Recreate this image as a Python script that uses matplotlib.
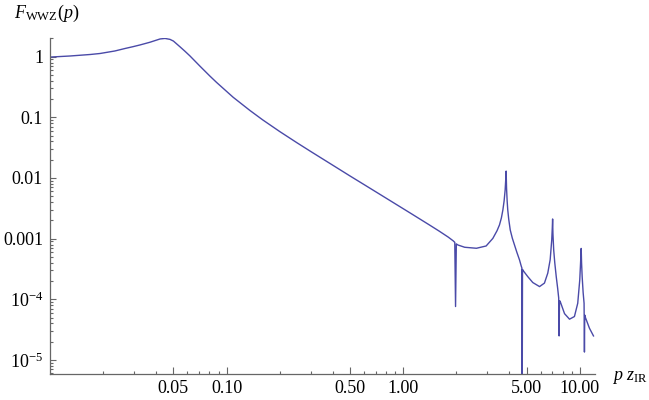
import matplotlib
matplotlib.use("Agg")
import matplotlib.pyplot as plt
from matplotlib.ticker import FixedLocator, FixedFormatter, NullFormatter

# ---- data ----
p_vals = [0.01, 0.013, 0.0169, 0.0192, 0.0233, 0.0266, 0.0295, 0.0323, 0.0368, 0.042,
          0.0448, 0.0478, 0.05, 0.0544, 0.0581, 0.062, 0.0706, 0.0804, 0.0878, 0.109,
          0.1355, 0.16, 0.2, 0.25, 0.3, 0.4, 0.5, 0.6, 0.75, 0.9,
          1.1, 1.4, 1.6, 1.8, 1.92, 1.96, 1.98, 2.0, 2.04, 2.23,
          2.6, 2.95, 3.22, 3.4, 3.51, 3.6, 3.67, 3.73, 3.78, 3.81,
          3.83, 3.85, 3.88, 3.91, 3.96, 4.04, 4.15, 4.27, 4.4, 4.56,
          4.66, 4.70, 4.72, 4.74, 4.80, 5.08, 5.42, 5.92, 6.31, 6.59,
          6.80, 6.94, 6.99, 7.02, 7.05, 7.12, 7.22, 7.36, 7.5, 7.6,
          7.64, 7.68, 7.75, 8.2, 8.75, 9.33, 9.74, 10.0, 10.1, 10.19,
          10.24, 10.32, 10.45, 10.58, 10.63, 10.67, 10.77, 11.35, 11.96]
F_vals = [0.985, 1.027, 1.087, 1.129, 1.242, 1.365, 1.462, 1.56, 1.73, 1.96,
          2.0, 1.93, 1.81, 1.46, 1.23, 1.03, 0.70, 0.48, 0.376, 0.214,
          0.13, 0.091, 0.0583, 0.0382, 0.0273, 0.0162, 0.0108, 0.0078, 0.00523, 0.00377,
          0.00263, 0.0017, 0.00133, 0.00106, 0.00092, 0.00087, 7.6e-5, 0.00082, 0.000787, 0.000721,
          0.000694, 0.000757, 0.00101, 0.00135, 0.00168, 0.0022, 0.00297, 0.0042, 0.00634, 0.0095,
          0.013, 0.0068, 0.0042, 0.003, 0.0021, 0.00139, 0.00102, 0.000787, 0.0006, 0.000445,
          0.000355, 0.00033, 1e-6, 0.00031, 0.000293, 0.000236, 0.000189, 0.000162, 0.000185, 0.00027,
          0.00045, 0.00095, 0.0015, 0.00211, 0.0012, 0.00065, 0.0004, 0.000236, 0.00015, 0.000105,
          2.49e-5, 9.5e-5, 9.2e-5, 5.8e-5, 4.7e-5, 5.2e-5, 8.6e-5, 0.000208, 0.00038, 0.00069,
          0.0004, 0.000236, 0.00013, 8.6e-5, 1.35e-5, 5.5e-5, 5.0e-5, 3.33e-5, 2.49e-5]

x_major = [0.05, 0.1, 0.5, 1.0, 5.0, 10.0]
x_major_labels = ["0.05", "0.10", "0.50", "1.00", "5.00", "10.00"]
x_minor = [0.02, 0.03, 0.04, 0.06, 0.07, 0.08, 0.09,
           0.2, 0.3, 0.4, 0.6, 0.7, 0.8, 0.9,
           2, 3, 4, 6, 7, 8, 9]
y_major = [1, 0.1, 0.01, 0.001, 1e-4, 1e-5]
y_major_labels = ["1", "0.1", "0.01", "0.001", r"$10^{-4}$", r"$10^{-5}$"]
y_minor = [m * 10.0 ** e for e in range(-6, 1) for m in range(2, 10)]

# ---- style ----
plt.rcParams['font.family'] = ['Liberation Serif', 'DejaVu Serif']
plt.rcParams['mathtext.fontset'] = 'custom'
plt.rcParams['mathtext.rm'] = 'Liberation Serif'
plt.rcParams['mathtext.it'] = 'Liberation Serif:italic'
plt.rcParams['mathtext.bf'] = 'Liberation Serif:bold'

W, H = 649, 400
fig = plt.figure(figsize=(W / 100, H / 100), dpi=100)
left, right, top, bottom = 50, 595, 38.3, 374.3
ax = fig.add_axes([left / W, 1 - bottom / H, (right - left) / W, (bottom - top) / H])

ax.plot(p_vals, F_vals, color='#4a4aa8', lw=1.0)
ax.set_xscale('log')
ax.set_yscale('log')
ax.set_xlim(0.01, 12.2)
ax.set_ylim(5.8e-6, 2.01)

axcol = '#666666'
for s in ['top', 'right']:
    ax.spines[s].set_visible(False)
for s in ['left', 'bottom']:
    ax.spines[s].set_color(axcol)
    ax.spines[s].set_linewidth(0.9)

ax.xaxis.set_major_locator(FixedLocator(x_major))
ax.xaxis.set_major_formatter(FixedFormatter(x_major_labels))
ax.xaxis.set_minor_locator(FixedLocator(x_minor))
ax.xaxis.set_minor_formatter(NullFormatter())
ax.yaxis.set_major_locator(FixedLocator(y_major))
ax.yaxis.set_major_formatter(FixedFormatter(y_major_labels))
ax.yaxis.set_minor_locator(FixedLocator(y_minor))
ax.yaxis.set_minor_formatter(NullFormatter())

ax.tick_params(axis='both', which='both', direction='in', color=axcol, width=0.8,
               labelsize=13, labelcolor='black')
ax.tick_params(axis='x', which='major', length=5, pad=4)
ax.tick_params(axis='x', which='minor', length=2.5)
ax.tick_params(axis='y', which='major', length=4, pad=5)
ax.tick_params(axis='y', which='minor', length=2)

fig.text(14 / W, 1 - 18 / H, r"$F_{\mathrm{WWZ}}(p)$", fontsize=13, ha='left', va='baseline')
fig.text(612 / W, 1 - 380 / H, r"$p\ z_{\mathrm{IR}}$", fontsize=13, ha='left', va='baseline')

fig.savefig("out.png", dpi=100)
